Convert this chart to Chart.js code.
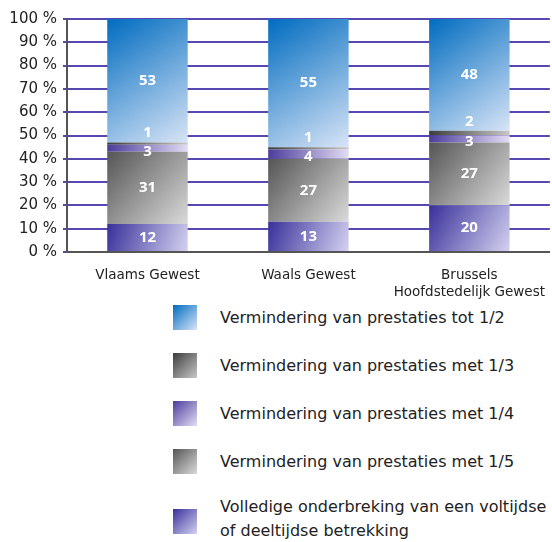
<!DOCTYPE html>
<html>
<head>
<meta charset="utf-8">
<script src="https://cdn.jsdelivr.net/npm/chart.js@4"></script>
<style>
  body { margin: 0; background: #fff; font-family: "DejaVu Sans", sans-serif; }
  #wrap { position: relative; width: 552px; height: 300px; }
  #legend { position: absolute; left: 173px; top: 305px; width: 379px; }
  .item { position: absolute; left: 0; display: flex; align-items: center; }
  .box { width: 24px; height: 25px; flex: none; }
  .txt { margin-left: 23px; font-size: 16px; line-height: 24px; color: #222; white-space: nowrap; }
</style>
</head>
<body>
<div id="wrap"><canvas id="servicesChart"></canvas></div>
<div id="legend"></div>
<script>
const categories = ['Vlaams Gewest', 'Waals Gewest', ['Brussels', 'Hoofdstedelijk Gewest']];
const seriesNames = [
  ['Volledige onderbreking van een voltijdse', 'of deeltijdse betrekking'],
  ['Vermindering van prestaties met 1/5'],
  ['Vermindering van prestaties met 1/4'],
  ['Vermindering van prestaties met 1/3'],
  ['Vermindering van prestaties tot 1/2']
];
const volledige = [12, 13, 20];
const met15 = [31, 27, 27];
const met14 = [3, 4, 3];
const met13 = [1, 1, 2];
const tot12 = [53, 55, 48];
const seriesList = [volledige, met15, met14, met13, tot12];
const yTicks = [0, 10, 20, 30, 40, 50, 60, 70, 80, 90, 100];

const gradColors = [
  ['#38309a', '#d4d2f0'],
  ['#555555', '#dadada'],
  ['#4a3c9c', '#e4ddf4'],
  ['#3c3c3c', '#c8c8c8'],
  ['#006cc0', '#d8e4f6']
];

function segGradient(ctx) {
  const d = ctx.datasetIndex;
  const c = gradColors[d];
  const chart = ctx.chart;
  if (!chart.chartArea || ctx.type !== 'data') return c[0];
  const i = ctx.dataIndex;
  const xs = chart.scales.x, ys = chart.scales.y;
  let base = 0;
  for (let k = 0; k < d; k++) base += seriesList[k][i];
  const top = base + seriesList[d][i];
  const cx = xs.getPixelForValue(i);
  const half = xs.width / categories.length * 0.25;
  const g = chart.ctx.createLinearGradient(cx - half, ys.getPixelForValue(top), cx + half, ys.getPixelForValue(base));
  g.addColorStop(0, c[0]);
  g.addColorStop(1, c[1]);
  return g;
}

const labelShift = [0, 0, 3, -11, 0];
const valueLabels = {
  id: 'valueLabels',
  afterDatasetsDraw(chart) {
    const ctx = chart.ctx;
    ctx.save();
    ctx.fillStyle = '#fff';
    ctx.font = 'bold 15px "Open Sans", sans-serif';
    ctx.textAlign = 'center';
    ctx.textBaseline = 'middle';
    chart.data.datasets.forEach((ds, d) => {
      chart.getDatasetMeta(d).data.forEach((el, i) => {
        ctx.fillText(String(ds.data[i]), el.x, (el.y + el.base) / 2 + labelShift[d]);
      });
    });
    ctx.restore();
  }
};

const chartCanvas = document.getElementById('servicesChart');
const serviceChart = new Chart(chartCanvas, {
  type: 'bar',
  data: {
    labels: categories,
    datasets: seriesList.map((vals, d) => ({
      label: seriesNames[d].join(' '),
      data: vals,
      backgroundColor: segGradient,
      borderWidth: 0,
      barPercentage: 0.5,
      categoryPercentage: 1
    }))
  },
  options: {
    responsive: true,
    maintainAspectRatio: false,
    animation: false,
    layout: { padding: { top: 19, right: 0, left: 0, bottom: 0 } },
    plugins: { legend: { display: false }, tooltip: { enabled: false } },
    scales: {
      x: {
        stacked: true,
        grid: { display: false },
        border: { color: '#555', width: 2 },
        ticks: { color: '#222', font: { family: 'DejaVu Sans', size: 13.5, lineHeight: 1.25 }, padding: 7, maxRotation: 0 },
        afterFit(scale) { scale.height = 48; }
      },
      y: {
        stacked: true,
        min: 0,
        max: 100,
        afterBuildTicks(scale) { scale.ticks = yTicks.map(v => ({ value: v })); },
        grid: { color: '#5548b0', lineWidth: 2, tickLength: 4 },
        border: { color: '#555', width: 2 },
        ticks: { color: '#222', font: { family: 'DejaVu Sans', size: 15 }, padding: 6, callback: v => v + ' %' },
        afterFit(scale) { scale.width = 67; }
      }
    }
  },
  plugins: [valueLabels]
});

// legend, top to bottom in reverse stack order
const legendEl = document.getElementById('legend');
const tops = [0, 48, 96, 144, 192];
seriesList.map((_, d) => d).reverse().forEach((d, n) => {
  const c = gradColors[d];
  const item = document.createElement('div');
  item.className = 'item';
  item.style.top = tops[n] + 'px';
  const box = document.createElement('div');
  box.className = 'box';
  box.style.background = 'linear-gradient(135deg, ' + c[0] + ', ' + c[1] + ')';
  const txt = document.createElement('div');
  txt.className = 'txt';
  txt.innerHTML = seriesNames[d].join('<br>');
  if (seriesNames[d].length > 1) { item.style.top = (tops[n] + 2) + 'px'; txt.style.marginTop = '-4px'; }
  item.appendChild(box);
  item.appendChild(txt);
  legendEl.appendChild(item);
});
</script>
</body>
</html>
